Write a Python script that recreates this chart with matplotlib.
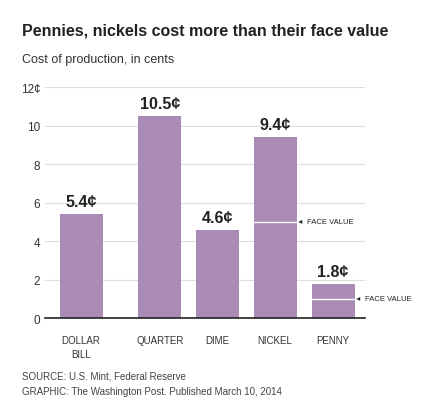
import matplotlib
matplotlib.use("Agg")
import matplotlib.pyplot as plt

categories = ["DOLLAR\nBILL", "QUARTER", "DIME", "NICKEL", "PENNY"]
positions = [0, 1.36, 2.35, 3.35, 4.35]
costs = [5.4, 10.5, 4.6, 9.4, 1.8]
labels = ["5.4¢", "10.5¢", "4.6¢", "9.4¢", "1.8¢"]
face_values = {3: 5, 4: 1}

color = "#a98bb5"
plt.rcParams["font.family"] = ["Liberation Sans", "DejaVu Sans"]

fig = plt.figure(figsize=(4.34, 4.14), dpi=100)
ax = fig.add_axes([0.104, 0.229, 0.737, 0.558])

ax.bar(positions, costs, width=0.74, color=color, zorder=2)
for x, v, lab in zip(positions, costs, labels):
    ax.text(x, v + 0.25, lab, ha="center", va="bottom", fontsize=11.5,
            fontweight="bold", color="#222222")

for i, fv in face_values.items():
    x = positions[i]
    ax.plot([x - 0.37, x + 0.37], [fv, fv], color="white", lw=1, zorder=3)
    ax.annotate("FACE VALUE", xy=(x + 0.4, fv), xycoords="data",
                xytext=(x + 0.55, fv), va="center", ha="left", fontsize=5.5,
                color="#222222", annotation_clip=False,
                arrowprops=dict(arrowstyle="-|>", color="#222222", lw=0,
                                mutation_scale=7, shrinkA=0, shrinkB=0))

ax.set_xlim(-0.62, 4.9)
ax.set_ylim(0, 12)
ax.set_yticks([0, 2, 4, 6, 8, 10, 12])
ax.set_yticklabels(["0", "2", "4", "6", "8", "10", "12¢"])
ax.set_xticks(positions)
ax.set_xticklabels(categories, fontsize=7, va="top", linespacing=1.5)
ax.tick_params(axis="both", length=0, labelsize=8.5, colors="#333333")
ax.tick_params(axis="x", labelsize=7, pad=12)
ax.grid(axis="y", color="#dddddd", lw=0.8, zorder=0)
for s in ["top", "right", "left"]:
    ax.spines[s].set_visible(False)
ax.spines["bottom"].set_color("#222222")
ax.spines["bottom"].set_linewidth(1.2)

fig.text(0.05, 0.915, "Pennies, nickels cost more than their face value",
         fontsize=11.5, fontweight="bold", color="#222222")
fig.text(0.05, 0.847, "Cost of production, in cents", fontsize=9, color="#333333")
fig.text(0.05, 0.083, "SOURCE: U.S. Mint, Federal Reserve", fontsize=7, color="#444444")
fig.text(0.05, 0.045, "GRAPHIC: The Washington Post. Published March 10, 2014",
         fontsize=7, color="#444444")

fig.savefig("out.png", dpi=100)
